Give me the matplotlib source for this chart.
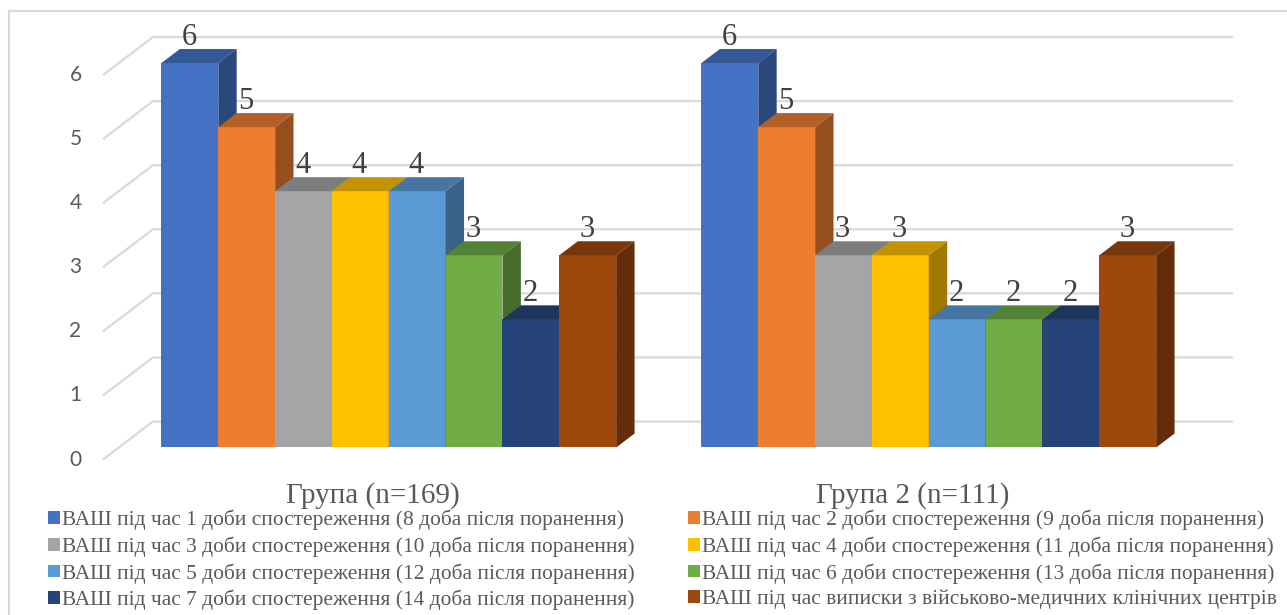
import matplotlib
matplotlib.use("Agg")
import matplotlib.pyplot as plt
from matplotlib.patches import Polygon, Patch
from matplotlib.lines import Line2D
from matplotlib.colors import to_rgb

# ---------------- data ----------------
groups = ["Група (n=169)", "Група 2 (n=111)"]
series_names = [
    "ВАШ під час 1 доби спостереження (8 доба після поранення)",
    "ВАШ під час 2 доби спостереження (9 доба після поранення)",
    "ВАШ під час 3 доби спостереження (10 доба після поранення)",
    "ВАШ під час 4 доби спостереження (11 доба після поранення)",
    "ВАШ під час 5 доби спостереження (12 доба після поранення)",
    "ВАШ під час 6 доби спостереження (13 доба після поранення)",
    "ВАШ під час 7 доби спостереження (14 доба після поранення)",
    "ВАШ під час виписки з військово-медичних клінічних центрів",
]
group1_values = [6, 5, 4, 4, 4, 3, 2, 3]
group2_values = [6, 5, 3, 3, 2, 2, 2, 3]
y_ticks = [0, 1, 2, 3, 4, 5, 6]
colors = ["#4472C4", "#ED7D31", "#A5A5A5", "#FFC000",
          "#5B9BD5", "#70AD47", "#264478", "#9E480E"]

values = [group1_values, group2_values]

# ---------------- layout ----------------
W, H = 1287, 615
fig = plt.figure(figsize=(W / 100, H / 100), dpi=100)
ax = fig.add_axes([0, 0, 1, 1])
ax.set_axis_off()

X0, SX = 103.0, 540.0      # pixel x of category 0 front plane, px per category
Y0, SY = 459.5, 64.08      # pixel y of value 0 front plane, px per unit
ax.set_xlim(-X0 / SX, (W - X0) / SX)
ax.set_ylim((Y0 - H) / SY, Y0 / SY)

DX = 50.0 / SX             # full depth offset (x) in data units
DY = 38.0 / SY             # full depth offset (y) in data units
d_front, d_back = 0.316, 0.684
n_series = len(series_names)
bw = 1.0 / (n_series + 1.5)
gap = 0.75 * bw

grid_c = "#d9d9d9"
# gridlines: side wall diagonal + back wall
for v in y_ticks:
    ax.plot([0, DX, len(groups) + DX], [v, v + DY, v + DY],
            color=grid_c, lw=1.6, zorder=1, solid_capstyle="butt")
    ax.text((75.5 - X0) / SX, v, str(v), ha="center", va="center",
            fontsize=15, color="#595959", family="Lato")


def shade(c, f):
    r, g, b = to_rgb(c)
    return (r * f, g * f, b * f)


ddx = (d_back - d_front) * DX
ddy = (d_back - d_front) * DY
base = d_front * DY
for k in range(n_series):
    xs = [gi + d_front * DX + gap + k * bw for gi in range(len(groups))]
    hs = [values[gi][k] for gi in range(len(groups))]
    z = 10 + 3 * k
    ax.bar(xs, hs, width=bw, bottom=base, align="edge", color=colors[k],
           edgecolor="none", zorder=z, label=series_names[k])
    for xl, h in zip(xs, hs):
        top = base + h
        ax.add_patch(Polygon([(xl, top), (xl + bw, top),
                              (xl + bw + ddx, top + ddy), (xl + ddx, top + ddy)],
                             closed=True, facecolor=shade(colors[k], 0.76),
                             edgecolor="none", zorder=z + 1))
        ax.add_patch(Polygon([(xl + bw, base), (xl + bw + ddx, base + ddy),
                              (xl + bw + ddx, top + ddy), (xl + bw, top)],
                             closed=True, facecolor=shade(colors[k], 0.63),
                             edgecolor="none", zorder=z + 2))
        ax.text(xl + bw / 2 - 1.0 / SX, h + d_back * DY + 4.0 / SY, f"{h}",
                ha="center", va="baseline", fontsize=22,
                family="Liberation Serif", color="#404040", zorder=60)

# category labels
for gi, g in enumerate(groups):
    ax.text(gi + 0.5, (Y0 - 503) / SY, g, ha="center", va="baseline",
            fontsize=21, family="Liberation Serif", color="#595959")

# legend: two columns, row-wise order
handles = [Patch(facecolor=c, edgecolor="none") for c in colors]
leg_kw = dict(frameon=False, handlelength=0.55,
              handleheight=0.55, handletextpad=0.1, labelspacing=0.295,
              borderpad=0, borderaxespad=0,
              prop={"family": "Liberation Serif", "size": 15.4},
              labelcolor="#595959", loc="upper left")
idx1 = [0, 2, 4, 6]
idx2 = [1, 3, 5, 7]
leg1 = ax.legend([handles[i] for i in idx1], [series_names[i] for i in idx1],
                 bbox_to_anchor=(48 / W, 1 - 509.5 / H),
                 bbox_transform=fig.transFigure, **leg_kw)
ax.add_artist(leg1)
leg2 = ax.legend([handles[i] for i in idx2], [series_names[i] for i in idx2],
                 bbox_to_anchor=(688 / W, 1 - 509.5 / H),
                 bbox_transform=fig.transFigure, **leg_kw)

# outer chart border (top and left visible)
fig.add_artist(Line2D([9 / W, 1], [1 - 11 / H, 1 - 11 / H], color=grid_c,
                      lw=1.5, transform=fig.transFigure))
fig.add_artist(Line2D([9 / W, 9 / W], [0, 1 - 11 / H], color=grid_c,
                      lw=1.5, transform=fig.transFigure))

fig.savefig("out.png", dpi=100, facecolor="white")
